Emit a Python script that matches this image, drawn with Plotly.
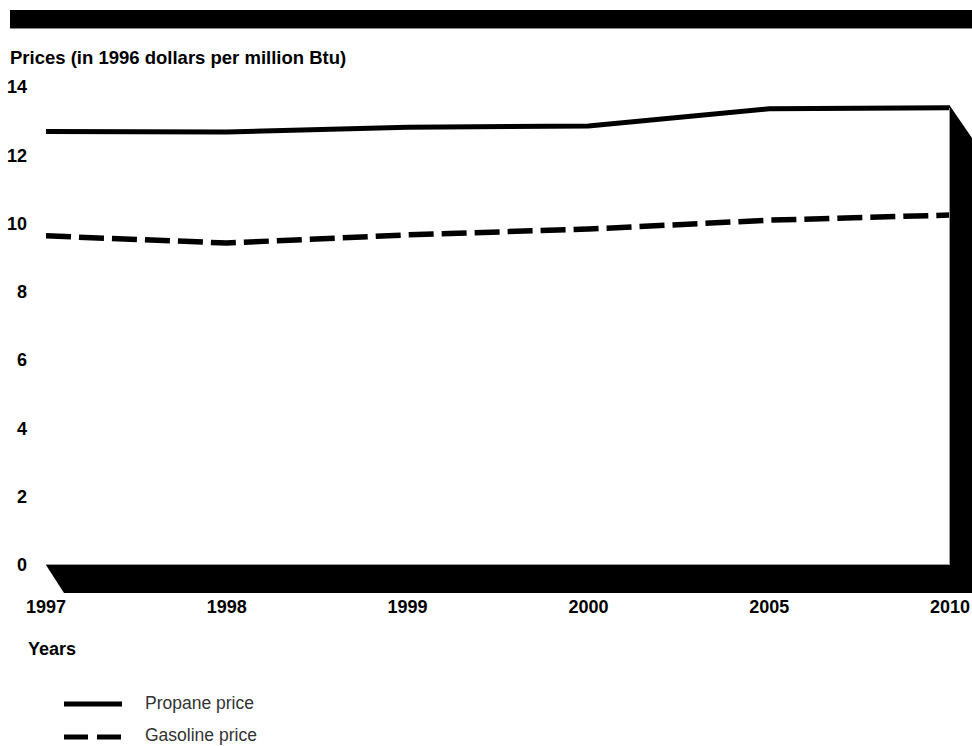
import plotly.graph_objects as go

years = ["1997", "1998", "1999", "2000", "2005", "2010"]
propane = [12.70, 12.68, 12.82, 12.86, 13.36, 13.39]
gasoline = [9.64, 9.43, 9.67, 9.84, 10.10, 10.25]
y_ticks = [0, 2, 4, 6, 8, 10, 12, 14]
series_names = ["Propane price", "Gasoline price"]

W, H = 972, 746
L, R, T, B = 46, 22, 87, 181
pw = W - L - R
ph = H - T - B


def px(x):
    return (x - L) / pw


def py(y):
    return (H - B - y) / ph


FONT = "Liberation Sans, Arial, sans-serif"
GAS_DASH = "25px,8px"

fig = go.Figure()
fig.add_trace(go.Scatter(x=years, y=propane, mode="lines", name=series_names[0],
                         line=dict(color="black", width=5), showlegend=False))
fig.add_trace(go.Scatter(x=years, y=gasoline, mode="lines", name=series_names[1],
                         line=dict(color="black", width=5.5, dash=GAS_DASH), showlegend=False))

shapes = []
# top black bar
shapes.append(dict(type="rect", xref="paper", yref="paper", x0=px(10), x1=px(972),
                   y0=py(28), y1=py(10), fillcolor="black", line=dict(width=0), layer="above"))
shapes.append(dict(type="line", xref="paper", yref="paper", x0=px(10), x1=px(972),
                   y0=py(28.5), y1=py(28.5), line=dict(color="#888", width=1)))
# floor (3D shadow)
floor = "M {},{} L {},{} L {},{} L {},{} Z".format(
    px(46), py(565), px(972), py(565), px(972), py(593), px(64), py(593))
shapes.append(dict(type="path", xref="paper", yref="paper", path=floor,
                   fillcolor="black", line=dict(width=0), layer="above"))
# right wall
wall = "M {},{} L {},{} L {},{} L {},{} Z".format(
    px(950), py(106), px(972), py(138), px(972), py(593), px(950), py(593))
shapes.append(dict(type="path", xref="paper", yref="paper", path=wall,
                   fillcolor="black", line=dict(width=0), layer="above"))
shapes.append(dict(type="line", xref="paper", yref="paper", x0=px(46), x1=px(950),
                   y0=py(564.5), y1=py(564.5), line=dict(color="#999", width=1), layer="above"))
shapes.append(dict(type="line", xref="paper", yref="paper", x0=px(949.5), x1=px(949.5),
                   y0=py(108), y1=py(565), line=dict(color="#999", width=1), layer="above"))
# legend samples
shapes.append(dict(type="line", xref="paper", yref="paper", x0=px(64), x1=px(122),
                   y0=py(704), y1=py(704), line=dict(color="black", width=5)))
shapes.append(dict(type="line", xref="paper", yref="paper", x0=px(64), x1=px(122),
                   y0=py(737), y1=py(737), line=dict(color="black", width=5, dash="24px,9px")))

annotations = [
    dict(text="<b>Prices (in 1996 dollars per million Btu)</b>", xref="paper", yref="paper",
         x=px(8), y=py(57), xanchor="left", yanchor="middle", showarrow=False,
         font=dict(family=FONT, size=18.5, color="black")),
    dict(text="<b>Years</b>", xref="paper", yref="paper",
         x=px(26), y=py(649), xanchor="left", yanchor="middle", showarrow=False,
         font=dict(family=FONT, size=18, color="black")),
    dict(text=series_names[0], xref="paper", yref="paper",
         x=px(143), y=py(703), xanchor="left", yanchor="middle", showarrow=False,
         font=dict(family=FONT, size=17.5, color="#333")),
    dict(text=series_names[1], xref="paper", yref="paper",
         x=px(143), y=py(735), xanchor="left", yanchor="middle", showarrow=False,
         font=dict(family=FONT, size=17.5, color="#333")),
]

fig.update_layout(
    width=W, height=H, autosize=False,
    margin=dict(l=L, r=R, t=T, b=B, pad=0),
    paper_bgcolor="white", plot_bgcolor="white",
    shapes=shapes, annotations=annotations,
    font=dict(family=FONT, color="black"),
    xaxis=dict(type="category", range=[0, len(years) - 1], showgrid=False, zeroline=False,
               showline=False, ticks="", ticklabelstandoff=29, automargin=False,
               tickfont=dict(family=FONT, size=18, color="black", weight="bold")),
    yaxis=dict(range=[0, 14], tickvals=y_ticks, showgrid=False, zeroline=False,
               showline=False, ticks="", ticklabelstandoff=18, automargin=False,
               tickfont=dict(family=FONT, size=18, color="black", weight="bold")),
)

fig.write_html("out.html",
               config={"displayModeBar": False, "responsive": False},
               post_script="document.body.style.margin='0px';document.body.style.overflow='hidden';")
